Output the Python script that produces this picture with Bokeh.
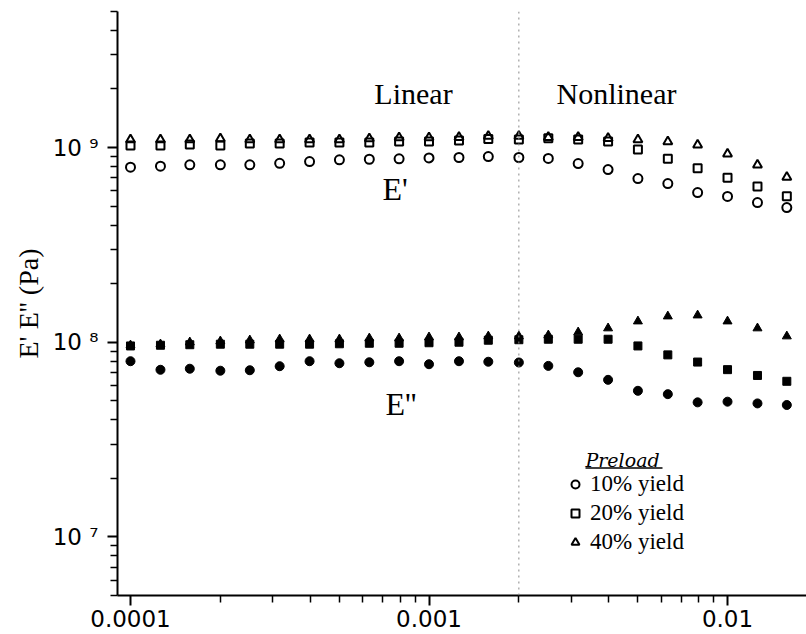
from bokeh.plotting import figure
from bokeh.models import (FixedTicker, CustomJSTickFormatter, Label, Span, Legend,
                          LegendItem, BoxAnnotation, Range1d)
from bokeh.embed import file_html
from bokeh.resources import INLINE

# ---------------- data ----------------
strain = [1.0e-4, 1.26e-4, 1.58e-4, 2.0e-4, 2.51e-4, 3.16e-4, 3.98e-4, 5.01e-4,
          6.31e-4, 7.94e-4, 1.0e-3, 1.26e-3, 1.58e-3, 2.0e-3, 2.51e-3, 3.16e-3,
          3.98e-3, 5.01e-3, 6.31e-3, 7.94e-3, 1.0e-2, 1.26e-2, 1.58e-2]

e1_10 = [7.93e8, 8.02e8, 8.15e8, 8.15e8, 8.15e8, 8.30e8, 8.47e8, 8.65e8, 8.71e8,
         8.75e8, 8.85e8, 8.89e8, 8.99e8, 8.89e8, 8.79e8, 8.28e8, 7.71e8, 6.93e8,
         6.53e8, 5.87e8, 5.61e8, 5.22e8, 4.92e8]
e1_20 = [1.024e9, 1.024e9, 1.036e9, 1.024e9, 1.048e9, 1.048e9, 1.061e9, 1.061e9,
         1.061e9, 1.073e9, 1.073e9, 1.086e9, 1.108e9, 1.099e9, 1.116e9, 1.099e9,
         1.073e9, 9.77e8, 8.75e8, 7.83e8, 7.00e8, 6.31e8, 5.63e8]
e1_40 = [1.099e9, 1.099e9, 1.099e9, 1.112e9, 1.099e9, 1.099e9, 1.099e9, 1.099e9,
         1.112e9, 1.125e9, 1.125e9, 1.129e9, 1.143e9, 1.143e9, 1.129e9, 1.129e9,
         1.116e9, 1.099e9, 1.073e9, 1.032e9, 9.28e8, 8.15e8, 7.04e8]

e2_10 = [7.99e7, 7.22e7, 7.31e7, 7.14e7, 7.18e7, 7.53e7, 7.99e7, 7.80e7, 7.89e7,
         7.99e7, 7.71e7, 7.99e7, 7.94e7, 7.87e7, 7.56e7, 7.01e7, 6.41e7, 5.63e7,
         5.41e7, 4.91e7, 4.95e7, 4.85e7, 4.76e7]
e2_20 = [9.57e7, 9.65e7, 9.71e7, 9.77e7, 9.77e7, 9.77e7, 9.77e7, 9.82e7, 9.88e7,
         9.88e7, 9.94e7, 1.0e8, 1.024e8, 1.030e8, 1.036e8, 1.036e8, 1.036e8, 9.57e7,
         8.61e7, 7.91e7, 7.23e7, 6.75e7, 6.30e7]
e2_40 = [9.65e7, 9.77e7, 1.0e8, 1.012e8, 1.024e8, 1.036e8, 1.036e8, 1.036e8,
         1.048e8, 1.048e8, 1.061e8, 1.061e8, 1.073e8, 1.073e8, 1.086e8, 1.125e8,
         1.180e8, 1.281e8, 1.359e8, 1.375e8, 1.281e8, 1.180e8, 1.073e8]

series_labels = ["10% yield", "20% yield", "40% yield"]
legend_title = "Preload"
boundary_x = 0.002          # linear / nonlinear boundary
x_major = [1e-4, 1e-3, 1e-2]
y_major = [1e7, 1e8, 1e9]
y_axis_label = "E' E'' (Pa)"

# ---------------- figure ----------------
p = figure(width=806, height=634, x_axis_type="log", y_axis_type="log",
           x_range=Range1d(9.046e-5, 0.01839), y_range=Range1d(5e6, 5e9),
           output_backend="svg", toolbar_location=None,
           min_border_left=117, min_border_right=0, min_border_top=11,
           min_border_bottom=39)
p.outline_line_color = None
p.background_fill_color = "white"
p.border_fill_color = "white"
p.xgrid.visible = False
p.ygrid.visible = False

x_minor = [k * 10.0 ** e for e in range(-5, -1) for k in range(2, 10)]
y_minor = [k * 10.0 ** e for e in range(6, 10) for k in range(2, 10)]
p.xaxis.ticker = FixedTicker(ticks=x_major, minor_ticks=x_minor)
p.yaxis.ticker = FixedTicker(ticks=y_major, minor_ticks=y_minor)

p.xaxis.formatter = CustomJSTickFormatter(code="return tick.toString();")
p.yaxis.formatter = CustomJSTickFormatter(code="""
const sup = {"0":"\\u2070","1":"\\u00b9","2":"\\u00b2","3":"\\u00b3","4":"\\u2074",
             "5":"\\u2075","6":"\\u2076","7":"\\u2077","8":"\\u2078","9":"\\u2079"};
const e = String(Math.round(Math.log10(tick)));
return "10 " + e.split("").map(c => sup[c]).join("");
""")

for ax in (p.xaxis[0], p.yaxis[0]):
    ax.axis_line_width = 2
    ax.axis_line_color = "black"
    ax.major_tick_line_width = 2
    ax.minor_tick_line_width = 1.5
    ax.major_tick_line_color = "black"
    ax.minor_tick_line_color = "black"
    ax.major_tick_out = 10
    ax.major_tick_in = 0
    ax.minor_tick_out = 7
    ax.minor_tick_in = 0
    ax.major_label_text_font = "DejaVu Sans"
    ax.major_label_text_font_size = "23px"
    ax.major_label_text_color = "black"

p.xaxis.major_label_standoff = 4
p.yaxis.major_label_standoff = 9
p.yaxis.axis_label = y_axis_label
p.yaxis.axis_label_text_font = "Liberation Serif"
p.yaxis.axis_label_text_font_style = "normal"
p.yaxis.axis_label_text_font_size = "28px"
p.yaxis.axis_label_text_color = "black"
p.yaxis.axis_label_standoff = 6

# boundary line
p.add_layout(Span(location=boundary_x, dimension="height", line_color="#888888",
                  line_width=1, line_dash="2 4"))

# E' (open markers)
r_c = p.scatter(strain, e1_10, marker="circle", size=9, fill_color=None,
                line_color="black", line_width=2)
r_s = p.scatter(strain, e1_20, marker="square", size=8, fill_color=None,
                line_color="black", line_width=2)
r_t = p.scatter(strain, e1_40, marker="triangle", size=9, fill_color=None,
                line_color="black", line_width=2)
# E'' (filled markers)
p.scatter(strain, e2_10, marker="circle", size=9, fill_color="black", line_color="black")
p.scatter(strain, e2_20, marker="square", size=8, fill_color="black", line_color="black")
p.scatter(strain, e2_40, marker="triangle", size=9, fill_color="black", line_color="black")

serif = "Liberation Serif"
for txt, x, y, align, size in [("Linear", 296, 502, "center", "30px"),
                               ("Nonlinear", 499, 502, "center", "30px"),
                               ("E'", 265, 407, "left", "32px"),
                               ("E''", 268, 192, "left", "32px")]:
    p.add_layout(Label(x=x, y=y, x_units="screen", y_units="screen", text=txt,
                       text_font=serif, text_font_size=size, text_align=align,
                       text_baseline="alphabetic", text_color="black"))

# legend
legend = Legend(items=[LegendItem(label=series_labels[0], renderers=[r_c]),
                       LegendItem(label=series_labels[1], renderers=[r_s]),
                       LegendItem(label=series_labels[2], renderers=[r_t])],
                location=(448, 40), orientation="vertical",
                glyph_width=20, glyph_height=22, label_height=22, spacing=3,
                label_standoff=5, padding=0, margin=0,
                border_line_color=None, background_fill_alpha=0,
                label_text_font=serif, label_text_font_size="23px",
                label_text_color="black")
p.add_layout(legend, "center")

p.add_layout(Label(x=468, y=136, x_units="screen", y_units="screen", text=legend_title,
                   text_font="DejaVu Serif", text_font_style="italic",
                   text_font_size="19px", text_baseline="alphabetic", text_color="black"))
p.add_layout(BoxAnnotation(left=468, right=545, bottom=126.8, top=128.2,
                           left_units="screen", right_units="screen",
                           bottom_units="screen", top_units="screen",
                           fill_color="black", fill_alpha=1, line_alpha=0))

open("out.html", "w").write(file_html(p, INLINE))
